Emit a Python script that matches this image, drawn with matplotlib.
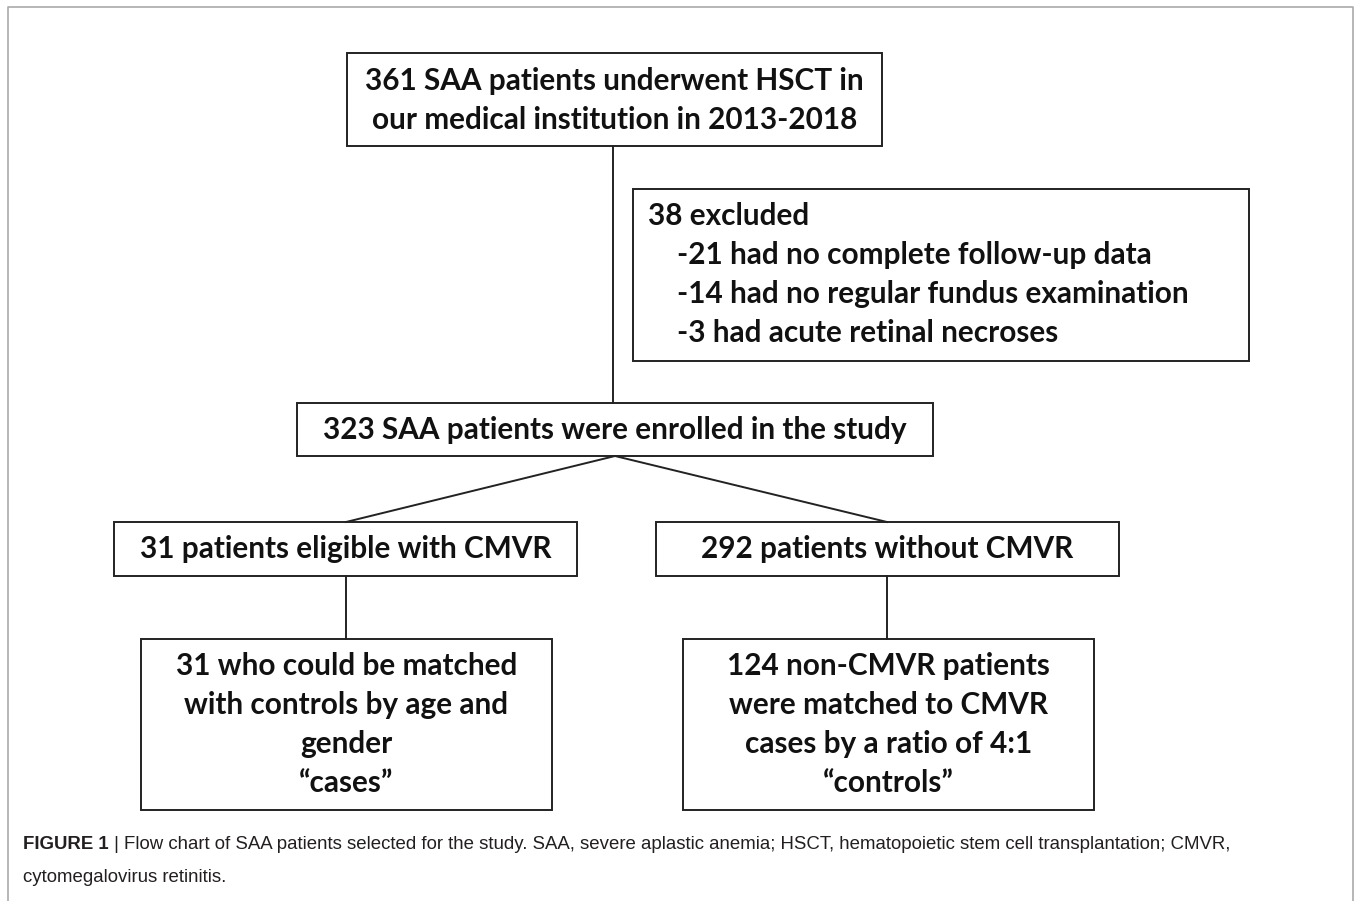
import matplotlib
matplotlib.use('agg')
import matplotlib.pyplot as plt
from matplotlib.patches import Rectangle

# box texts, one list entry per line
top_lines = ['361 SAA patients underwent HSCT in', 'our medical institution in 2013-2018']
excl_head = '38 excluded'
excl_lines = ['-21 had no complete follow-up data',
              '-14 had no regular fundus examination',
              '-3 had acute retinal necroses']
enrolled_lines = ['323 SAA patients were enrolled in the study']
cmvr_lines = ['31 patients eligible with CMVR']
non_cmvr_lines = ['292 patients without CMVR']
cases_lines = ['31 who could be matched', 'with controls by age and', 'gender', '\u201ccases\u201d']
controls_lines = ['124 non-CMVR patients', 'were matched to CMVR',
                  'cases by a ratio of 4:1', '\u201ccontrols\u201d']
caption_bold = 'FIGURE 1'
caption_rest = (' | Flow chart of SAA patients selected for the study. SAA, severe aplastic anemia; '
                'HSCT, hematopoietic stem cell transplantation; CMVR,')
caption_line2 = 'cytomegalovirus retinitis.'

W, H = 1355, 901
fig = plt.figure(figsize=(W / 100, H / 100), dpi=100)
ax = fig.add_axes([0, 0, 1, 1])
ax.set_xlim(0, W)
ax.set_ylim(H, 0)
ax.axis('off')

BOX_FONT = dict(family=['Lato', 'DejaVu Sans'], fontweight='bold', fontsize=21.4, color='#111111')
LW = 1.4
LC = '#222222'
STEP = 39


def box(x0, y0, x1, y1):
    ax.add_patch(Rectangle((x0, y0), x1 - x0, y1 - y0, fill=False, edgecolor=LC, linewidth=LW))


def centered(lines, xc, base0):
    for i, s in enumerate(lines):
        ax.text(xc, base0 + i * STEP, s, ha='center', va='baseline', **BOX_FONT)


# outer frame (no bottom edge)
ax.plot([8, 8, 1353, 1353], [H, 7, 7, H], color='#aaaaaa', linewidth=1.2)

# top box
box(347, 53, 882, 146)
centered(top_lines, 614.5, 90)

# exclusion box
box(633, 189, 1249, 361)
ax.text(648, 225, excl_head, ha='left', va='baseline', **BOX_FONT)
for i, s in enumerate(excl_lines):
    ax.text(677, 225 + (i + 1) * STEP, s, ha='left', va='baseline', **BOX_FONT)

# enrolled
box(297, 403, 933, 456)
centered(enrolled_lines, 615, 439)

# split
box(114, 522, 577, 576)
centered(cmvr_lines, 345.5, 558)
box(656, 522, 1119, 576)
centered(non_cmvr_lines, 887.5, 558)

# final groups
box(141, 639, 552, 810)
centered(cases_lines, 346.5, 675)
box(683, 639, 1094, 810)
centered(controls_lines, 888.5, 675)

# connectors
ax.plot([613, 613], [146, 403], color=LC, linewidth=LW)
ax.plot([346, 615, 887], [522, 456, 522], color=LC, linewidth=LW)
ax.plot([346, 346], [576, 639], color=LC, linewidth=LW)
ax.plot([887, 887], [576, 639], color=LC, linewidth=LW)

# caption
CAP = dict(family=['Liberation Sans', 'DejaVu Sans'], fontsize=13.4, color='#231f20')
t = ax.text(23, 849, caption_bold, ha='left', va='baseline', fontweight='bold', **CAP)
fig.canvas.draw()
bb = t.get_window_extent()
x_rest = ax.transData.inverted().transform((bb.x1, bb.y0))[0]
ax.text(x_rest, 849, caption_rest, ha='left', va='baseline', **CAP)
ax.text(23, 882, caption_line2, ha='left', va='baseline', **CAP)

fig.savefig('out.png', dpi=100)
